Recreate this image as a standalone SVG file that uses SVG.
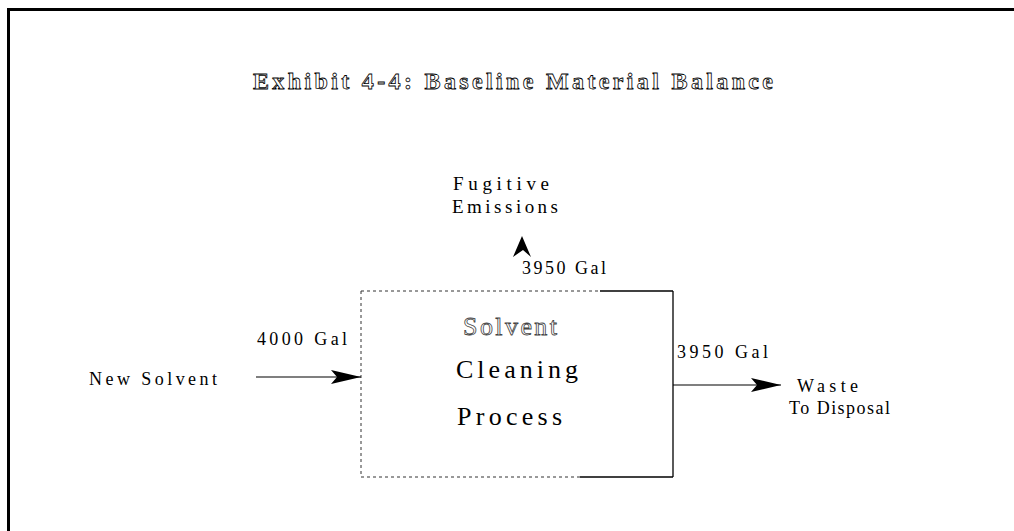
<svg xmlns="http://www.w3.org/2000/svg" width="1014" height="531" viewBox="0 0 1014 531">
  <style>
    .serif { font-family: "Liberation Serif", "Times New Roman", serif; fill: #000; }
    .title { font-size: 24px; font-weight: bold; fill: #fff; stroke: #000; stroke-width: 0.8px; }
    .label { font-size: 19px; }
    .small { font-size: 18px; }
    .proc { font-size: 26px; }
    .flow { stroke: #000; stroke-width: 1.2; fill: none; }
    .edge-dash { stroke: #333; stroke-width: 1; stroke-dasharray: 3 3; fill: none; }
    .edge-solid { stroke: #000; stroke-width: 1.3; fill: none; }
    .frame { stroke: #000; stroke-width: 3; fill: none; }
  </style>
  <defs>
    <marker id="head" viewBox="0 0 30 14" refX="30" refY="7" markerWidth="30" markerHeight="14" markerUnits="userSpaceOnUse" orient="auto">
      <path d="M0,0 L30,7 L0,14 L6,7 Z" fill="#000"/>
    </marker>
  </defs>

  <rect width="1014" height="531" fill="#fff"/>

  <!-- page frame: top and left rules only -->
  <path class="frame" d="M8.5,531 V9.5 H1014"/>

  <text class="serif title" x="253" y="89" textLength="520" lengthAdjust="spacing">Exhibit 4-4: Baseline Material Balance</text>

  <!-- process box -->
  <g id="process">
    <line class="edge-dash" x1="361" y1="291" x2="361" y2="477"/>
    <line class="edge-dash" x1="361" y1="291" x2="600" y2="291"/>
    <line class="edge-solid" x1="600" y1="291" x2="673" y2="291"/>
    <line class="edge-solid" x1="673" y1="291" x2="673" y2="477"/>
    <line class="edge-dash" x1="361" y1="477" x2="580" y2="477"/>
    <line class="edge-solid" x1="580" y1="477" x2="673" y2="477"/>
    <text class="serif proc" x="463" y="335" textLength="94" lengthAdjust="spacing" style="fill:#fff;stroke:#444;stroke-width:0.8px">Solvent</text>
    <text class="serif proc" x="456" y="378" textLength="122" lengthAdjust="spacing">Cleaning</text>
    <text class="serif proc" x="457" y="425" textLength="105" lengthAdjust="spacing">Process</text>
  </g>

  <g id="new-solvent">
    <text class="serif small" x="89" y="385" textLength="128" lengthAdjust="spacing">New Solvent</text>
  </g>

  <g id="emissions">
    <text class="serif label" x="453" y="190" textLength="96" lengthAdjust="spacing">Fugitive</text>
    <text class="serif label" x="452" y="213" textLength="106" lengthAdjust="spacing">Emissions</text>
  </g>

  <g id="waste">
    <text class="serif small" x="797" y="392" textLength="61" lengthAdjust="spacing">Waste</text>
    <text class="serif small" x="789" y="414" textLength="101" lengthAdjust="spacing">To Disposal</text>
  </g>

  <g id="connectors">
    <line class="flow" x1="256" y1="377" x2="361" y2="377" marker-end="url(#head)"/>
    <text class="serif small" x="257" y="345" textLength="90" lengthAdjust="spacing">4000 Gal</text>

    <line class="flow" x1="673" y1="385" x2="781" y2="385" marker-end="url(#head)"/>
    <text class="serif small" x="677" y="358" textLength="91" lengthAdjust="spacing">3950 Gal</text>

    <!-- upward emission arrowhead -->
    <path d="M522,236 L531,257 L523,250 L513,257 Z" fill="#000"/>
    <text class="serif small" x="522" y="274" textLength="84" lengthAdjust="spacing">3950 Gal</text>
  </g>
</svg>
